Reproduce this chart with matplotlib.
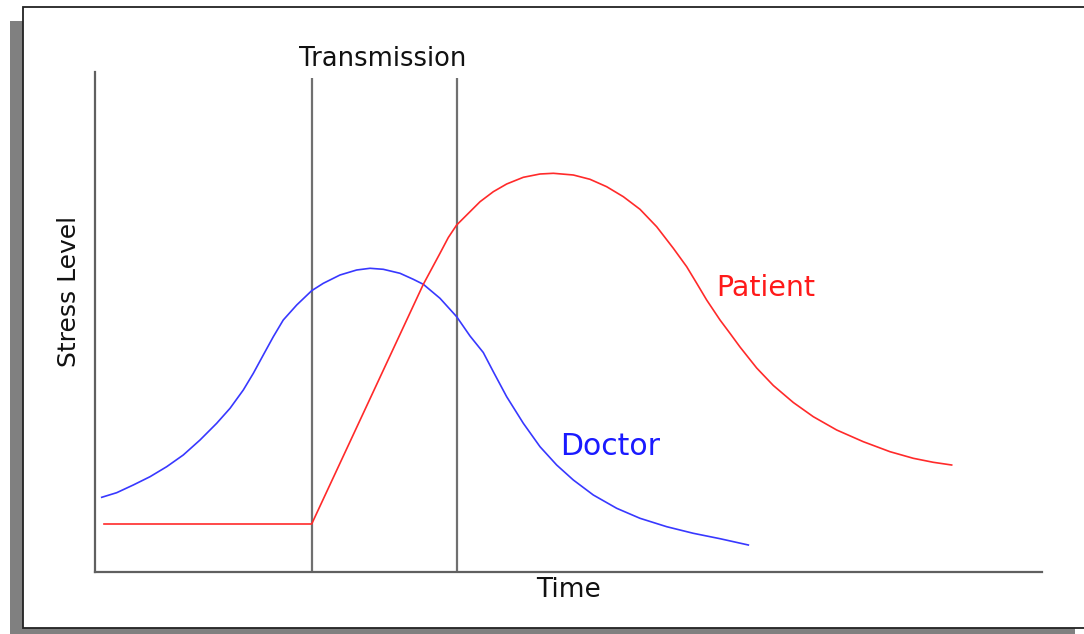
import matplotlib
matplotlib.use("Agg")
import matplotlib.pyplot as plt
from matplotlib.patches import Rectangle

W, H = 1084, 634

# Data (time 0-100, stress 0-100)
doctor_t = [0.71, 2.29, 4.04, 5.81, 7.57, 9.32, 11.09, 12.85, 14.26, 15.66, 16.72,
            17.77, 18.83, 19.88, 21.30, 22.88, 24.11, 25.87, 27.63, 29.04, 30.44,
            32.21, 33.61, 34.67, 36.43, 38.19, 39.60, 41.0, 42.06, 43.47, 45.23,
            46.99, 48.75, 50.51, 52.62, 55.09, 57.55, 60.37, 63.18, 66.0, 68.99]
doctor_s = [14.94, 15.86, 17.4, 19.06, 21.06, 23.4, 26.4, 29.74, 32.74, 36.4, 39.74,
            43.4, 47.06, 50.4, 53.4, 56.26, 57.74, 59.4, 60.4, 60.74, 60.54,
            59.74, 58.54, 57.54, 54.74, 51.06, 47.2, 43.9, 40.06, 35.06, 29.74,
            25.06, 21.4, 18.4, 15.4, 12.74, 10.74, 9.06, 7.74, 6.66, 5.4]

patient_t = [0.95, 22.88, 34.67, 36.43, 37.31, 38.19, 39.25, 40.66, 42.06, 43.47,
             45.23, 46.99, 48.40, 50.51, 52.27, 54.03, 55.79, 57.55, 59.31, 61.07,
             62.48, 63.54, 64.59, 66.0, 67.05, 68.11, 69.87, 71.63, 73.74, 75.85,
             78.32, 81.13, 83.95, 86.41, 88.52, 90.46]
patient_s = [9.6, 9.6, 57.54, 63.74, 66.9, 69.4, 71.4, 74.06, 76.06, 77.6,
             78.94, 79.6, 79.74, 79.4, 78.54, 77.06, 75.06, 72.54, 69.06, 64.74,
             61.06, 57.74, 54.4, 50.4, 47.74, 45.0, 40.8, 37.3, 33.9, 31.06,
             28.4, 26.06, 24.06, 22.74, 21.94, 21.4]

transmission_t = [22.9, 38.2]

fig = plt.figure(figsize=(W / 100, H / 100), dpi=100)
fig.patch.set_facecolor("white")


def fx(px):
    return px / W


def fy(py):
    return 1 - py / H


# shadow and frame
fig.patches.append(Rectangle((fx(10), fy(634)), fx(1075) - fx(10), fy(21) - fy(634),
                             transform=fig.transFigure, facecolor="#808080",
                             edgecolor="none", zorder=0))
fig.patches.append(Rectangle((fx(23), fy(628)), fx(1100) - fx(23), fy(7) - fy(628),
                             transform=fig.transFigure, facecolor="white",
                             edgecolor="#222222", linewidth=1.3, zorder=1))

ax = fig.add_axes([fx(95), fy(572), fx(1042) - fx(95), fy(72) - fy(572)])
ax.set_zorder(5)
ax.set_facecolor("none")
ax.set_xlim(0, 100)
ax.set_ylim(0, 100)
for sp in ["top", "right"]:
    ax.spines[sp].set_visible(False)
for sp in ["left", "bottom"]:
    ax.spines[sp].set_color("#606060")
    ax.spines[sp].set_linewidth(1.6)
ax.set_xticks([])
ax.set_yticks([])

for t in transmission_t:
    ax.plot([t, t], [0, 98.8], color="#707070", linewidth=1.6, solid_capstyle="butt")

ax.plot(doctor_t, doctor_s, color="#3838ff", linewidth=1.2, solid_joinstyle="round")
ax.plot(patient_t, patient_s, color="#ff2a2a", linewidth=1.2, solid_joinstyle="round")

ax.text(49.1, 23.4, "Doctor", color="#1a1aff", fontsize=21.5, ha="left", va="baseline")
ax.text(65.6, 55.2, "Patient", color="#ff1a1a", fontsize=20.5, ha="left", va="baseline")

fig.text(fx(383), fy(66), "Transmission", fontsize=18.5, ha="center", va="baseline",
         color="#111111", zorder=6)
fig.text(fx(69), fy(291), "Stress Level", fontsize=18, rotation=90, ha="center",
         va="center", color="#111111", zorder=6)
fig.text(fx(568), fy(597), "Time", fontsize=19, ha="center", va="baseline",
         color="#111111", zorder=6)

fig.savefig("out.png", dpi=100)
